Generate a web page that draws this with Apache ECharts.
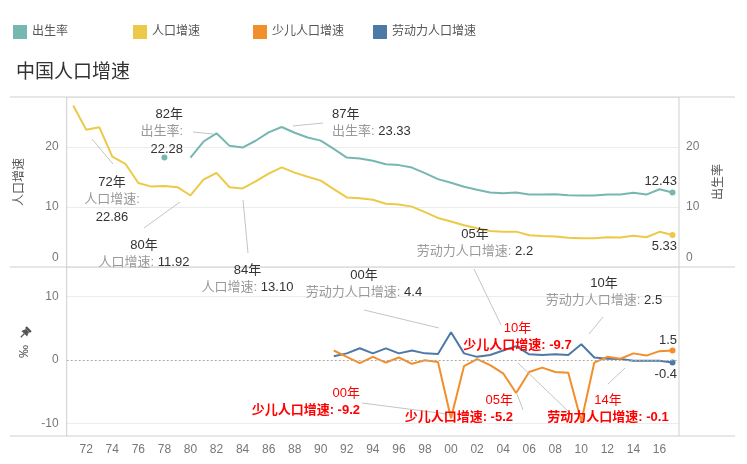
<!DOCTYPE html>
<html><head><meta charset="utf-8">
<script src="https://cdn.jsdelivr.net/npm/echarts@6/dist/echarts.min.js"></script>
<style>html,body{margin:0;padding:0;background:#fff}#c{width:747px;height:464px}</style>
</head><body><div id="c"></div>
<script>
const years = [1971,1972,1973,1974,1975,1976,1977,1978,1979,1980,1981,1982,1983,1984,1985,1986,1987,1988,1989,1990,
  1991,1992,1993,1994,1995,1996,1997,1998,1999,2000,2001,2002,2003,2004,2005,2006,2007,2008,2009,2010,
  2011,2012,2013,2014,2015,2016,2017];
// 出生率 (‰)
const birthRate = [null,null,null,null,null,null,null,18.25,null,
  18.21,20.91,22.28,20.19,19.90,21.04,22.43,23.33,22.37,21.58,21.06,
  19.68,18.24,18.09,17.70,17.12,16.98,16.57,15.64,14.64,14.03,13.38,12.86,12.41,12.29,12.40,
  12.09,12.10,12.14,11.95,11.90,11.93,12.10,12.08,12.37,12.07,12.95,12.43];
// 人口增速 (‰)
const popGrowth = [26.9,22.86,23.3,18.4,17.2,14.0,13.4,13.5,13.3,11.92,
  14.55,15.68,13.29,13.10,14.26,15.57,16.61,15.73,15.04,14.39,
  12.98,11.60,11.45,11.21,10.55,10.42,10.06,9.14,8.18,7.58,
  6.95,6.45,6.01,5.87,5.89,5.28,5.17,5.08,4.87,4.79,
  4.79,4.95,4.92,5.21,4.96,5.86,5.33];
// 少儿人口增速 (‰)
const childGrowth = [null,null,null,null,null,null,null,null,null,null,
  null,null,null,null,null,null,null,null,null,null,
  1.5,0.5,-0.5,0.5,-0.4,0.4,-0.6,-0.05,-0.3,-9.2,
  -0.95,0.15,-0.8,-2.1,-5.2,-1.9,-1.2,-1.9,-2.0,-9.7,
  -0.4,0.5,0.2,1.05,0.7,1.4,1.5];
// 劳动力人口增速 (‰)
const laborGrowth = [null,null,null,null,null,null,null,null,null,null,
  null,null,null,null,null,null,null,null,null,null,
  0.6,1.05,1.85,1.05,1.84,1.05,1.5,1.05,0.95,4.4,
  1.05,0.5,0.8,1.5,2.2,0.9,0.8,0.9,0.8,2.5,
  0.4,0.2,0.15,-0.1,-0.1,-0.1,-0.4];
const seriesNames = ['出生率','人口增速','少儿人口增速','劳动力人口增速'];
const colors = ['#76B7B2','#EDC948','#F28E2B','#4E79A7'];
const topTicks = [0,10,20];
const bottomTicks = [-10,0,10];

const FONT = '"Liberation Sans", Arial, "Noto Sans CJK SC", sans-serif';
const chart = echarts.init(document.getElementById('c'));

// show a dot on isolated points and on the last point of each series
function withDots(arr){
  return arr.map((v,i)=>{
    const prev = i>0 ? arr[i-1] : null, next = i<arr.length-1 ? arr[i+1] : null;
    const isolated = v!=null && prev==null && next==null;
    const last = v!=null && i===arr.length-1;
    if (isolated || last) return {value:v, symbol:'circle', symbolSize:6};
    return v;
  });
}

function lineSeries(name, idx, data, xi, yi, extra){
  return Object.assign({
    name, type:'line', xAxisIndex:xi, yAxisIndex:yi, data:withDots(data),
    symbol:'none', showSymbol:true, connectNulls:false,
    lineStyle:{width:2, color:colors[idx]}, itemStyle:{color:colors[idx]},
    emphasis:{disabled:true}, animation:false, z:3
  }, extra||{});
}

const legends = seriesNames.map((n,i)=>({
  data:[n], left:13+i*120, top:25, padding:0, itemWidth:14, itemHeight:14, icon:'rect',
  textStyle:{color:'#555', fontSize:12, fontFamily:FONT}, selectedMode:false
}));

const yLabel = {color:'#777', fontSize:12, fontFamily:FONT};

const option = {
  animation:false,
  textStyle:{fontFamily:FONT},
  title:{text:'中国人口增速', left:16, top:63, padding:0,
    textStyle:{fontSize:19, color:'#333', fontWeight:'normal', fontFamily:FONT}},
  legend:legends,
  grid:[
    {left:66.7, right:68, top:97, height:170},
    {left:66.7, right:68, top:267, height:169}
  ],
  xAxis:[
    {gridIndex:0, type:'category', data:years, boundaryGap:true,
     axisLine:{show:false}, axisTick:{show:false}, axisLabel:{show:false}},
    {gridIndex:1, type:'category', data:years, boundaryGap:true,
     axisLine:{show:false}, axisTick:{show:false},
     axisLabel:{color:'#777', fontSize:12, margin:8, fontFamily:FONT,
       interval:(i,v)=> (+v)%2===0,
       formatter:v=>String(v).slice(2)}}
  ],
  yAxis:[
    {gridIndex:0, type:'value', min:0, max:28.33, interval:10, position:'left',
     name:'人口增速', nameLocation:'middle', nameGap:41, nameRotate:90,
     nameTextStyle:{color:'#555', fontSize:12, fontFamily:FONT},
     axisLine:{show:false}, axisTick:{show:false},
     axisLabel:Object.assign({margin:8, formatter:v=> topTicks.includes(v) ? (v===0?'{z|0}':String(v)) : '',
       rich:{z:{color:'#777', fontSize:12, padding:[0,0,18,0]}}}, yLabel),
     splitLine:{lineStyle:{color:'#ececec'}}},
    {gridIndex:0, type:'value', min:0, max:28.33, interval:10, position:'right',
     name:'出生率', nameLocation:'middle', nameGap:34, nameRotate:90,
     nameTextStyle:{color:'#555', fontSize:12, fontFamily:FONT},
     axisLine:{show:false}, axisTick:{show:false},
     axisLabel:Object.assign({margin:7, formatter:v=> topTicks.includes(v) ? (v===0?'{z|0}':String(v)) : '',
       rich:{z:{color:'#777', fontSize:12, padding:[0,0,18,0]}}}, yLabel),
     splitLine:{show:false}},
    {gridIndex:1, type:'value', min:-12, max:14.69, interval:2, position:'left',
     name:'‰', nameLocation:'middle', nameGap:36, nameRotate:90,
     nameTextStyle:{color:'#555', fontSize:13, fontFamily:FONT},
     axisLine:{show:false}, axisTick:{show:false},
     axisLabel:Object.assign({margin:8, formatter:v=> bottomTicks.includes(v) ? String(v) : ''}, yLabel),
     splitLine:{show:false}}
  ],
  series:[
    lineSeries(seriesNames[0],0,birthRate,0,1),
    lineSeries(seriesNames[1],1,popGrowth,0,0),
    lineSeries(seriesNames[3],3,laborGrowth,1,2),
    lineSeries(seriesNames[2],2,childGrowth,1,2,{
      markLine:{silent:true, symbol:'none', label:{show:false}, animation:false,
        data:[
          {yAxis:bottomTicks[0], lineStyle:{color:'#ececec', type:'solid', width:1}},
          {yAxis:bottomTicks[2], lineStyle:{color:'#ececec', type:'solid', width:1}},
          {yAxis:bottomTicks[1], lineStyle:{color:'#aaa', type:[2,2], width:1}}
        ]}
    })
  ]
};
chart.setOption(option);

// ---- frame & annotations ----
const G = [];
const frameColor = '#cfcfcf';
[97, 267, 436].forEach(y=>G.push({type:'line', shape:{x1:10,y1:y,x2:735,y2:y}, style:{stroke:frameColor, lineWidth:1}, z:10, silent:true}));
[66.7, 679].forEach(x=>G.push({type:'line', shape:{x1:x,y1:97,x2:x,y2:436}, style:{stroke:frameColor, lineWidth:1}, z:10, silent:true}));

// pin icon next to ‰
G.push({type:'group', x:25, y:333, rotation:-Math.PI/4, z:10, silent:true, children:[
  {type:'rect', shape:{x:-3.5,y:-6,width:7,height:2.5}, style:{fill:'#555'}},
  {type:'polygon', shape:{points:[[-2,-3.5],[2,-3.5],[4,1],[-4,1]]}, style:{fill:'#555'}},
  {type:'line', shape:{x1:0,y1:1,x2:0,y2:6}, style:{stroke:'#555', lineWidth:1.2}}
]});

const LH = 17.5;
const rich = {
  y:{fill:'#333', fontSize:13, lineHeight:LH, fontFamily:FONT},
  g:{fill:'#999', fontSize:13, lineHeight:LH, fontFamily:FONT},
  n:{fill:'#333', fontSize:13, lineHeight:LH, fontFamily:FONT},
  r:{fill:'#ff0000', fontSize:13, lineHeight:LH, fontFamily:FONT},
  rb:{fill:'#ff0000', fontSize:13, lineHeight:LH, fontWeight:'bold', fontFamily:FONT}
};
function note(x, yFirst, align, text){
  G.push({type:'text', x:x, y:yFirst-LH/2, z:20, silent:true,
    style:{text:text, rich:rich, align:align, verticalAlign:'top', fontSize:13, lineHeight:LH, fontFamily:FONT}});
}
function leader(x1,y1,x2,y2){
  G.push({type:'line', shape:{x1,y1,x2,y2}, style:{stroke:'#c4c4c4', lineWidth:1}, z:15, silent:true});
}
// top panel
note(183, 114, 'right', '{y|82年}\n{g|出生率:}\n{n|22.28}');      leader(193,132,213,134);
note(332, 114, 'left', '{y|87年}\n{g|出生率:} {n|23.33}');           leader(293,126,323,123);
note(112, 182, 'center', '{y|72年}\n{g|人口增速:}\n{n|22.86}');     leader(92,139,113,164);
note(144, 245, 'center', '{y|80年}\n{g|人口增速:} {n|11.92}');       leader(144,228,180,202);
note(247.5, 270, 'center', '{y|84年}\n{g|人口增速:} {n|13.10}');     leader(243,200,248,253);
note(475, 234, 'center', '{y|05年}\n{g|劳动力人口增速:} {n|2.2}');    leader(474,269,501,325);
note(677, 181, 'right', '{n|12.43}');
note(677, 246, 'right', '{n|5.33}');
// bottom panel
note(364, 275, 'center', '{y|00年}\n{g|劳动力人口增速:} {n|4.4}');   leader(364,310,439,328);
note(604, 283, 'center', '{y|10年}\n{g|劳动力人口增速:} {n|2.5}');   leader(603,317,589,334);
note(517.5, 328, 'center', '{r|10年}\n{rb|少儿人口增速: -9.7}');      leader(518,363,570,413);
note(360, 393, 'right', '{r|00年}\n{rb|少儿人口增速: -9.2}');         leader(362,403,447,414);
note(513, 400, 'right', '{r|05年}\n{rb|少儿人口增速: -5.2}');         leader(517,394,523,410);
note(608, 400, 'center', '{r|14年}\n{rb|劳动力人口增速: -0.1}');      leader(625,368,608,384);
note(677, 340, 'right', '{n|1.5}');
note(677, 374, 'right', '{n|-0.4}');

chart.setOption({graphic:G});
</script>
</body></html>
